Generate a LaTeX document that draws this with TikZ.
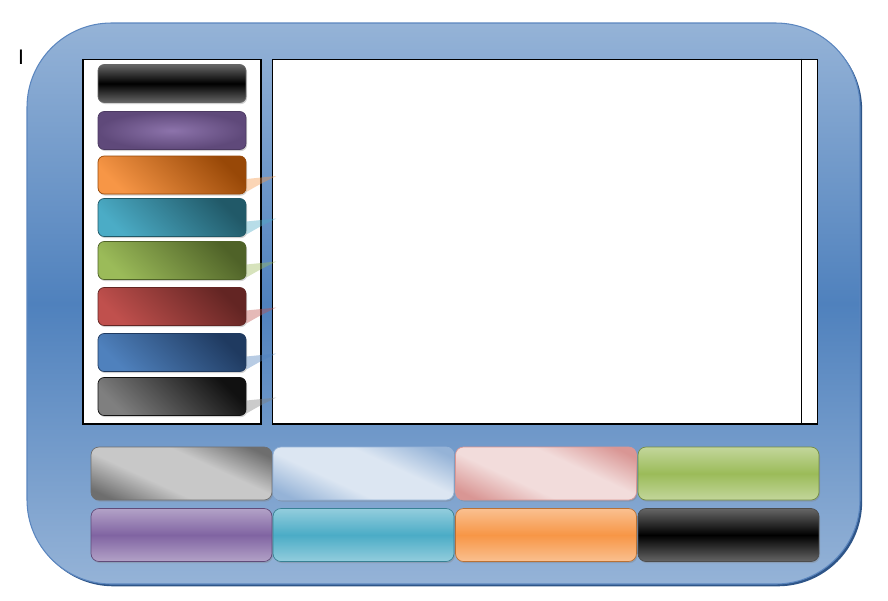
\documentclass[tikz,border=0pt]{standalone}
\usepackage{fontspec}
\setsansfont{Liberation Sans}
\usetikzlibrary{shadows,calc}

\definecolor{framelight}{HTML}{95B3D7}
\definecolor{framemid}{HTML}{4F81BD}
\definecolor{frameline}{HTML}{5B86BF}
\definecolor{frameshade}{HTML}{2E5588}
\definecolor{org1}{HTML}{F79646}\definecolor{org2}{HTML}{984807}
\definecolor{tea1}{HTML}{4BACC6}\definecolor{tea2}{HTML}{215968}
\definecolor{grn1}{HTML}{9BBB59}\definecolor{grn2}{HTML}{4F6228}
\definecolor{red1}{HTML}{C0504D}\definecolor{red2}{HTML}{632523}
\definecolor{blu1}{HTML}{4F81BD}\definecolor{blu2}{HTML}{1F3A60}
\definecolor{gry1}{HTML}{7F7F7F}\definecolor{gry2}{HTML}{111111}
\definecolor{pur1}{HTML}{8064A2}\definecolor{pur2}{HTML}{5F497A}
\definecolor{pur3}{HTML}{B3A2C7}
\definecolor{blk1}{HTML}{666666}
\definecolor{slv1}{HTML}{6E6E6E}\definecolor{slv2}{HTML}{C8C8C8}
\definecolor{sky1}{HTML}{95B3D7}\definecolor{sky2}{HTML}{DCE6F2}
\definecolor{pnk1}{HTML}{D99694}\definecolor{pnk2}{HTML}{F2DCDB}
\definecolor{grn3}{HTML}{C3D69B}
\definecolor{tea3}{HTML}{93CDDD}
\definecolor{org3}{HTML}{FAC090}

% dark corners, wide light band
\newcommand\sheenshading[3]{\pgfdeclarehorizontalshading{#1}{100bp}{color(0bp)=(#2);
  color(22bp)=(#2); color(40bp)=(#3); color(60bp)=(#3); color(78bp)=(#2); color(100bp)=(#2)}}
\sheenshading{silversheen}{slv1}{slv2}
\sheenshading{skysheen}{sky1}{sky2}
\sheenshading{pinksheen}{pnk1}{pnk2}

\tikzset{
  btn/.style={rounded corners=3.5pt, inner sep=0pt, minimum width=2.96cm,
    minimum height=0.76cm, line width=0.4pt,
    drop shadow={shadow xshift=0.6pt, shadow yshift=-0.9pt, opacity=0.35}},
  wide/.style={btn, rounded corners=4.5pt, minimum width=3.62cm, minimum height=1.06cm},
  gloss/.style 2 args={top color=#1, bottom color=#1, middle color=#2, draw=#2!75!black},
  diag/.style 2 args={left color=#1, right color=#2, shading angle=135, draw=#2},
  sheen/.style 2 args={shade, shading=#1, shading angle=65, draw=#2},
  panel/.style={draw, fill=white, line width=0.6pt, inner sep=0pt, minimum height=7.3cm}
}

\begin{document}
\begin{tikzpicture}[x=0.02cm,y=-0.02cm]
  \useasboundingbox (0,0) rectangle (888,600);
  % frame
  \draw[frameline, line width=0.6pt, rounded corners=48pt, top color=framelight,
    bottom color=framelight, middle color=framemid,
    general shadow={fill=frameshade, shadow xshift=1.2pt, shadow yshift=-1.3pt}]
    (27,23) rectangle (860,584);
  \node[font=\sffamily\fontsize{12}{14}\selectfont, inner sep=0pt] (cursor) at (21,57) {I};

  % panels
  \node[panel, minimum width=3.56cm] (menu) at (172,241.5) {};
  \node[panel, minimum width=10.92cm] (view) at (545,241.5) {};
  \draw[line width=0.6pt] ($(view.north east)+(-17,0)$) -- ($(view.south east)+(-17,0)$);

  % left buttons
  \node[btn, gloss={blk1}{black}, draw=black!60] (b1) at (172,83.5) {};
  \node[btn, inner color=pur1!90!white, outer color=pur2, draw=pur2!80!black] (b2) at (172,130.5) {};
  \node[btn, diag={org1}{org2}] (b3) at (172,175) {};
  \node[btn, diag={tea1}{tea2}] (b4) at (172,217.5) {};
  \node[btn, diag={grn1}{grn2}] (b5) at (172,260.5) {};
  \node[btn, diag={red1}{red2}] (b6) at (172,306.5) {};
  \node[btn, diag={blu1}{blu2}] (b7) at (172,352.5) {};
  \node[btn, diag={gry1}{gry2}] (b8) at (172,396.5) {};

  \foreach \b/\c in {b3/org1,b4/tea1,b5/grn1,b6/red1,b7/blu1,b8/gry1}
    \fill[\c, opacity=0.4] ($(\b.east)+(0,4)$) -- ($(\b.east)+(30,1)$)
      .. controls ($(\b.east)+(12,10)$) .. ($(\b.east)+(0,17)$) -- cycle;

  % bottom buttons
  \node[wide, sheen={silversheen}{slv1}] (s1) at (181.5,473.5) {};
  \node[wide, sheen={skysheen}{sky1}] (s2) at (363.5,473.5) {};
  \node[wide, sheen={pinksheen}{pnk1}] (s3) at (546,473.5) {};
  \node[wide, gloss={grn3}{grn1}] (s4) at (728.5,473.5) {};
  \node[wide, gloss={pur3}{pur1}] (s5) at (181.5,535) {};
  \node[wide, gloss={tea3}{tea1}] (s6) at (363.5,535) {};
  \node[wide, gloss={org3}{org1}] (s7) at (546,535) {};
  \node[wide, gloss={blk1}{black}, draw=black!70] (s8) at (728.5,535) {};
\end{tikzpicture}
\end{document}
